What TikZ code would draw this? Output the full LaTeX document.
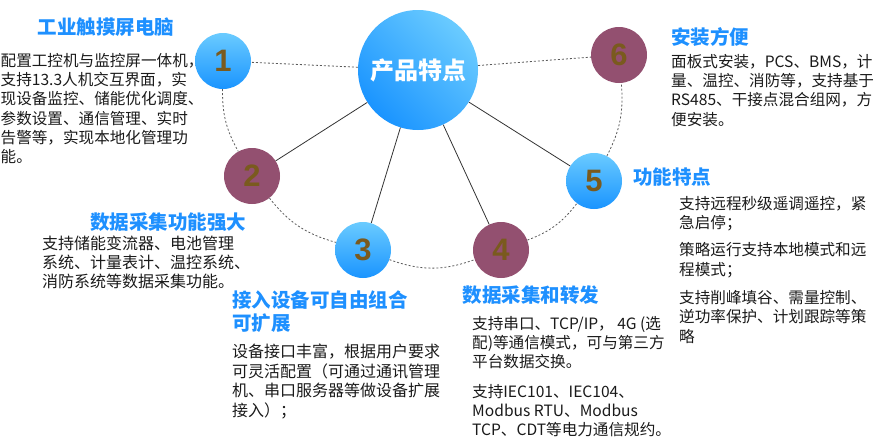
\documentclass[tikz,border=0pt]{standalone}
\usepackage{fontspec}
\setmainfont{Noto Sans CJK SC}
\newfontfamily\numfont{Liberation Sans}
\usetikzlibrary{shadings}
\definecolor{ttl}{HTML}{1E90FF}
\definecolor{mauve}{HTML}{935070}
\definecolor{bdark}{HTML}{1A94FF}
\definecolor{blight}{HTML}{6ACBFF}
\definecolor{numc}{HTML}{7A5A1E}
\definecolor{txt}{HTML}{1A1A1A}
\tikzset{
  bluenum/.style={circle, minimum size=56pt, inner sep=0pt, top color=blight, bottom color=bdark, draw=none,
    font=\numfont\bfseries\fontsize{31}{31}\selectfont, text=numc},
  mauvenum/.style={circle, minimum size=56pt, inner sep=0pt, fill=mauve, draw=none,
    font=\numfont\bfseries\fontsize{31}{31}\selectfont, text=numc},
  hub/.style={circle, minimum size=120pt, inner sep=0pt, top color=blight, bottom color=bdark, shading angle=-45,
    font=\bfseries\fontsize{24}{24}\selectfont, text=white},
  title/.style={font=\bfseries\fontsize{19.5}{23}\selectfont, text=ttl, inner sep=0pt},
  body/.style={font=\fontsize{15.6}{19.3}\selectfont, text=txt, inner sep=0pt, anchor=north west, align=left},
  arcdash/.style={draw=black!65, line width=0.8pt, dash pattern=on 2pt off 2pt},
  spoke/.style={draw=black!80, line width=0.8pt}
}
\begin{document}
\begin{tikzpicture}[x=1pt,y=-1pt]
\useasboundingbox (0,0) rectangle (877,445);
% circles
\node[hub] (c) at (418,70) {产品特点};
\node[bluenum] (n1) at (223,61) {1};
\node[mauvenum] (n2) at (252,176) {2};
\node[bluenum] (n3) at (363,250) {3};
\node[mauvenum] (n4) at (501,250) {4};
\node[bluenum] (n5) at (594,181) {5};
\node[mauvenum] (n6) at (619,55) {6};
% connectors
\draw[arcdash] (c) -- (n1);
\draw[arcdash] (c) -- (n6);
\draw[spoke] (c) -- (n2);
\draw[spoke] (c) -- (n3);
\draw[spoke] (c) -- (n4);
\draw[spoke] (c) -- (n5);
\draw[arcdash] (n1) to[bend right=15] (n2);
\draw[arcdash] (n2) to[bend right=18] (n3);
\draw[arcdash] (n3) to[bend right=20] (n4);
\draw[arcdash] (n4) to[bend right=16] (n5);
\draw[arcdash] (n5) to[bend right=16] (n6);
% text blocks
\node[title] (t1) at (106,27) {工业触摸屏电脑};
\node[body] (b1) at (0.5,53) {配置工控机与监控屏一体机，\\支持13.3人机交互界面，实\\现设备监控、储能优化调度、\\参数设置、通信管理、实时\\告警等，实现本地化管理功\\能。};
\node[title] (t2) at (168,222) {数据采集功能强大};
\node[body, font=\fontsize{16}{18.7}\selectfont] (b2) at (42,236) {支持储能变流器、电池管理\\系统、计量表计、温控系统、\\消防系统等数据采集功能。};
\node[title, anchor=north west, align=left] (t3) at (232,291) {接入设备可自由组合\\可扩展};
\node[body, font=\fontsize{16}{19.5}\selectfont] (b3) at (232,344) {设备接口丰富，根据用户要求\\可灵活配置（可通过通讯管理\\机、串口服务器等做设备扩展\\接入）；};
\node[title] (t4) at (531,295) {数据采集和转发};
\node[body] (b4) at (472,316) {支持串口、TCP/IP， 4G (选\\配)等通信模式，可与第三方\\平台数据交换。\\[10pt]支持IEC101、IEC104、\\Modbus RTU、Modbus\\TCP、CDT等电力通信规约。};
\node[title] (t5) at (672,177) {功能特点};
\node[body] (b5) at (679,196) {支持远程秒级遥调遥控，紧\\急启停；\\[8pt]策略运行支持本地模式和远\\程模式；\\[9pt]支持削峰填谷、需量控制、\\逆功率保护、计划跟踪等策\\略};
\node[title] (t6) at (710,37) {安装方便};
\node[body] (b6) at (671,54) {面板式安装，PCS、BMS，计\\量、温控、消防等，支持基于\\RS485、干接点混合组网，方\\便安装。};
\end{tikzpicture}
\end{document}
